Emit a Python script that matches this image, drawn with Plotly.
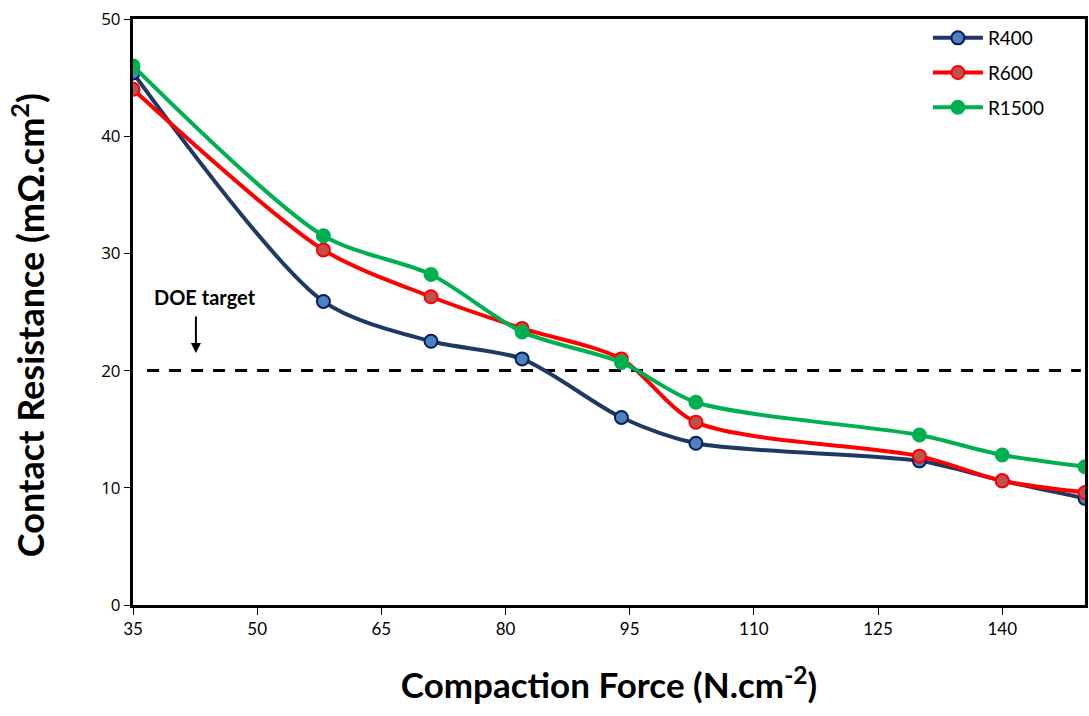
import plotly.graph_objects as go

compaction_force = [35, 58, 71, 82, 94, 103, 130, 140, 150]
r400 = [45.4, 25.9, 22.5, 21.0, 16.0, 13.8, 12.3, 10.6, 9.1]
r600 = [44.0, 30.3, 26.3, 23.6, 21.0, 15.6, 12.7, 10.6, 9.6]
r1500 = [46.0, 31.5, 28.2, 23.3, 20.7, 17.3, 14.5, 12.8, 11.8]
doe_target_x = [36.7, 149.5]
doe_target_y = [20, 20]
x_ticks = [35, 50, 65, 80, 95, 110, 125, 140]
y_ticks = [0, 10, 20, 30, 40, 50]

series = [
    ("R400", r400, "#203864", "#4F81BD", "#002060"),
    ("R600", r600, "#FF0000", "#C0504D", "#FF0000"),
    ("R1500", r1500, "#00B050", "#00B050", "#00B050"),
]

fig = go.Figure()
fig.add_trace(go.Scatter(
    x=doe_target_x, y=doe_target_y, mode="lines", showlegend=False,
    line=dict(color="black", width=3, dash="12px,10px"), hoverinfo="skip"))

for i, (name, vals, lc, mf, ml) in enumerate(series):
    fig.add_trace(go.Scatter(
        x=compaction_force, y=vals, name=name, mode="lines+markers",
        legendgroup=f"g{i}",
        line=dict(color=lc, width=4, shape="spline", smoothing=0.8),
        marker=dict(size=13, color=mf, line=dict(color=ml, width=2)),
        cliponaxis=True))

# label text
fig.add_annotation(
    x=43.7, y=26.3, xref="x", yref="y", text="<b>DOE target</b>",
    showarrow=False, font=dict(family="Lato, Open Sans", size=20, color="black"))
# arrow
fig.add_annotation(
    x=42.6, y=21.5, xref="x", yref="y", text="",
    showarrow=True, arrowhead=2, arrowsize=1, arrowwidth=2, arrowcolor="black",
    ax=0, ay=-38, standoff=0, startstandoff=0)

# y-axis title
fig.add_annotation(
    x=-0.110, y=0.478, xref="paper", yref="paper", textangle=-90,
    text="<b>Contact Resistance (mΩ.cm<sup>2</sup>)</b>", showarrow=False,
    xanchor="center", yanchor="middle",
    font=dict(family="Lato, Open Sans", size=36, color="black"))

fig.update_layout(
    width=1089, height=716,
    margin=dict(l=133, r=1, t=19, b=111),
    paper_bgcolor="white", plot_bgcolor="white",
    showlegend=True,
    legend=dict(x=0.835, y=1.0, xanchor="left", yanchor="top",
                font=dict(family="Lato, Open Sans", size=19, color="black"),
                traceorder="grouped", tracegroupgap=7, itemwidth=50,
                bgcolor="rgba(255,255,255,0)"),
    xaxis=dict(range=[35, 150], tickvals=x_ticks, ticks="outside", ticklen=7,
               tickwidth=1, tickcolor="black",
               showline=True, linecolor="black", linewidth=3, mirror=True,
               showgrid=False, zeroline=False,
               tickfont=dict(family="Liberation Sans Narrow, Lato", size=17, color="black"),
               title=dict(text="<b>Compaction Force (N.cm<sup>-2</sup>)</b>",
                          font=dict(family="Lato, Open Sans", size=35, color="black"),
                          standoff=36)),
    yaxis=dict(range=[0, 50], tickvals=y_ticks, ticks="outside", ticklen=6,
               tickwidth=1, tickcolor="black",
               showline=True, linecolor="black", linewidth=3, mirror=True,
               showgrid=False, zeroline=False,
               tickfont=dict(family="Open Sans, Lato", size=17, color="black")),
)

fig.write_html("out.html")
